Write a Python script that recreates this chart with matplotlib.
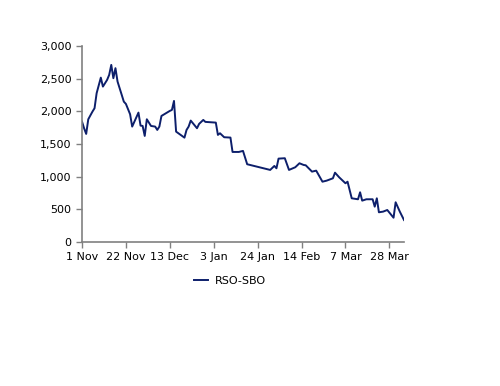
import datetime
import numpy as np
import pandas as pd
import matplotlib
matplotlib.use('Agg')
import matplotlib.pyplot as plt
from matplotlib.ticker import FuncFormatter

# days after 1 Nov
day_offsets = [0, 1, 2, 3, 5, 6, 7, 9, 10, 12, 13, 14, 15, 16, 17, 19, 20, 21, 23, 24,
               27, 28, 29, 30, 31, 33, 35, 36, 37, 38, 42, 43, 44, 45, 49, 50, 51, 52, 55, 56,
               58, 59, 64, 65, 66, 68, 71, 72, 75, 77, 79, 90, 92, 93, 94, 97, 99, 102, 104, 106,
               107, 110, 112, 113, 115, 117, 120, 121, 123, 126, 127, 129, 132, 133, 134, 136, 139, 140, 141, 142,
               144, 146, 149, 150, 152, 154]
rso_sbo = [1842, 1740, 1654, 1878, 1995, 2047, 2277, 2515, 2378, 2480, 2557, 2710, 2506, 2660, 2455, 2251, 2148, 2113, 1955, 1766,
           1980, 1781, 1776, 1623, 1878, 1776, 1766, 1715, 1766, 1929, 2006, 2021, 2159, 1689, 1597, 1715, 1766, 1858, 1741, 1807,
           1868, 1838, 1827, 1639, 1664, 1603, 1598, 1378, 1378, 1394, 1190, 1103, 1164, 1128, 1276, 1282, 1103, 1144, 1205, 1179,
           1174, 1077, 1092, 1036, 923, 939, 975, 1061, 990, 899, 923, 669, 654, 761, 633, 654, 654, 541, 669, 455,
           465, 490, 372, 608, 465, 337]
tick_labels = ['1 Nov', '22 Nov', '13 Dec', '3 Jan', '24 Jan', '14 Feb', '7 Mar', '28 Mar']

start = datetime.datetime(2021, 11, 1)
dates = [start + datetime.timedelta(days=d) for d in day_offsets]
df = pd.DataFrame({'date': dates, 'RSO-SBO': rso_sbo})

fig = plt.figure(figsize=(5, 3.86), dpi=100)
ax = fig.add_axes([0.164, 0.373, 0.644, 0.508])

ax.plot(df['date'], df['RSO-SBO'], color='#0d1f6b', lw=1.4, label='RSO-SBO')

ax.set_ylim(0, 3000)
ax.set_yticks(np.arange(0, 3001, 500))
ax.yaxis.set_major_formatter(FuncFormatter(lambda v, p: '{:,.0f}'.format(v)))
ax.set_xlim(start, start + datetime.timedelta(days=154))
ticks = [start + datetime.timedelta(days=21 * i) for i in range(len(tick_labels))]
ax.set_xticks(ticks)
ax.set_xticklabels(tick_labels)

for s in ['top', 'right']:
    ax.spines[s].set_visible(False)
for s in ['left', 'bottom']:
    ax.spines[s].set_color('#808080')
    ax.spines[s].set_linewidth(1.2)
ax.tick_params(colors='#808080', labelcolor='black', labelsize=8, length=4, width=1)

fig.legend(loc='center', bbox_to_anchor=(0.46, 0.272), frameon=False, fontsize=8,
           handlelength=1.2, handletextpad=0.6)

fig.savefig('out.png', dpi=100)
